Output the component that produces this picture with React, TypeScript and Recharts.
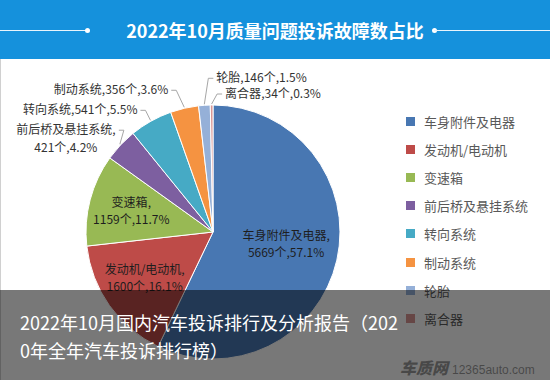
import React from 'react';
import { PieChart, Pie, Cell } from 'recharts';

const categories = ['车身附件及电器', '发动机/电动机', '变速箱', '前后桥及悬挂系统', '转向系统', '制动系统', '轮胎', '离合器'];
const counts = [5669, 1600, 1159, 421, 541, 356, 146, 34];
const percents = ['57.1%', '16.1%', '11.7%', '4.2%', '5.5%', '3.6%', '1.5%', '0.3%'];
const COLORS = ['#4877b2', '#be4b48', '#98b954', '#7d5fa0', '#46aac5', '#f59341', '#95b0d8', '#d99694'];

const TITLE = '2022年10月质量问题投诉故障数占比';
const BANNER = ['2022年10月国内汽车投诉排行及分析报告（202', '0年全年汽车投诉排行榜）'];

const data = categories.map((name, i) => ({ name, value: counts[i], pct: percents[i] }));

const FONT = '"Noto Sans CJK SC", "Noto Sans", sans-serif';
const RAD = Math.PI / 180;

// label placement: inside labels sit at a fraction of the radius,
// outside labels are offset from the slice edge and get a leader line
type LabelCfg =
  | { inside: number; dy: number }
  | { dx: number; dy: number; side: 'left' | 'right'; split?: boolean };

const LABEL_CFG: LabelCfg[] = [
  { inside: 0.59, dy: -5 },
  { inside: 0.66, dy: -3 },
  { inside: 0.665, dy: 0 },
  { dx: -4, dy: -14, side: 'left', split: true },
  { dx: -13, dy: -10, side: 'left' },
  { dx: -16, dy: -17, side: 'left' },
  { dx: 12, dy: -26, side: 'right' },
  { dx: 13.5, dy: -10, side: 'right' },
];

const renderLabel = (props: any) => {
  const { cx, cy, midAngle, outerRadius, index } = props;
  const d = data[index];
  const cfg = LABEL_CFG[index];
  const cos = Math.cos(-midAngle * RAD);
  const sin = Math.sin(-midAngle * RAD);

  if ('inside' in cfg) {
    const r = outerRadius * cfg.inside;
    const x = cx + r * cos;
    const y = cy + r * sin + cfg.dy;
    return (
      <text x={x} y={y} textAnchor="middle" fill="#1e1e1e" fontSize={12} fontFamily={FONT}>
        <tspan x={x} dy={-4}>{d.name},</tspan>
        <tspan x={x} dy={17}>{d.value}个,{d.pct}</tspan>
      </text>
    );
  }

  const ex = cx + (outerRadius + 1) * cos;
  const ey = cy + (outerRadius + 1) * sin;
  const tx = ex + cfg.dx;
  const ty = ey + cfg.dy;
  const dir = cfg.side === 'left' ? 1 : -1;
  const path = `M${ex},${ey} L${tx + dir * 8},${ty} L${tx + dir * 3},${ty}`;

  if (cfg.split) {
    const mx = tx - 50;
    return (
      <g>
        <path d={path} stroke="#a6a6a6" fill="none" strokeWidth={1} />
        <text x={mx} y={ty + 4} textAnchor="middle" fill="#333" fontSize={12} fontFamily={FONT}>
          <tspan x={mx}>{d.name},</tspan>
          <tspan x={mx} dy={18}>{d.value}个,{d.pct}</tspan>
        </text>
      </g>
    );
  }

  return (
    <g>
      <path d={path} stroke="#a6a6a6" fill="none" strokeWidth={1} />
      <text x={tx} y={ty + 4} textAnchor={cfg.side === 'left' ? 'end' : 'start'} fill="#333" fontSize={12} fontFamily={FONT}>
        {d.name},{d.value}个,{d.pct}
      </text>
    </g>
  );
};

const LegendList = () => (
  <div style={{ position: 'absolute', left: 406, top: 107, fontFamily: FONT }}>
    {categories.map((c, i) => (
      <div key={c} style={{ display: 'flex', alignItems: 'center', height: 28.2 }}>
        <div style={{ width: 9, height: 9, background: COLORS[i], marginRight: 9 }} />
        <span style={{ fontSize: 13, color: '#595959', whiteSpace: 'nowrap' }}>{c}</span>
      </div>
    ))}
  </div>
);

const TitleBar = () => (
  <div style={{ position: 'absolute', left: 0, top: 0, width: 550, height: 59, background: '#1591dc' }}>
    <div style={{ position: 'absolute', left: 0, top: 30, width: 87, height: 1, background: '#e8f4fc' }} />
    <div style={{ position: 'absolute', left: 85, top: 28, width: 5, height: 5, borderRadius: 3, background: '#fff' }} />
    <div style={{ position: 'absolute', left: 432, top: 28, width: 5, height: 5, borderRadius: 3, background: '#fff' }} />
    <div style={{ position: 'absolute', left: 434, top: 30, width: 116, height: 1, background: '#e8f4fc' }} />
    <div style={{
      position: 'absolute', left: 0, width: 550, top: 17, textAlign: 'center',
      color: '#fff', fontSize: 18, fontWeight: 700, fontFamily: FONT, lineHeight: '26px',
    }}>
      {TITLE}
    </div>
  </div>
);

const Banner = () => (
  <div style={{
    position: 'absolute', left: 0, top: 290, width: 550, height: 90,
    background: 'rgba(0,0,0,0.53)', fontFamily: FONT,
  }}>
    <div style={{ position: 'absolute', left: 20, top: 18, color: '#fff', fontSize: 18, lineHeight: '28px', whiteSpace: 'nowrap' }}>
      {BANNER.map((line) => <div key={line}>{line}</div>)}
    </div>
    <div style={{
      position: 'absolute', left: 400, top: 68, height: 18, lineHeight: '18px',
      color: 'rgba(30,30,30,0.55)', whiteSpace: 'nowrap', display: 'flex', alignItems: 'baseline',
    }}>
      <span style={{ fontSize: 16, fontWeight: 900, fontStyle: 'italic' }}>车质网</span>
      <span style={{ fontSize: 12, marginLeft: 4, fontFamily: 'Arial, "Liberation Sans", sans-serif' }}>12365auto.com</span>
    </div>
  </div>
);

export default function App() {
  return (
    <div style={{ position: 'fixed', left: 0, top: 0, width: 550, height: 380, background: '#fff', overflow: 'hidden' }}>
      <div style={{ position: 'absolute', left: 0, top: 59, width: 1, height: 321, background: '#d0d0d0' }} />
      <TitleBar />
      <div style={{ position: 'absolute', left: 0, top: 0 }}>
        <PieChart width={550} height={380} margin={{ top: 0, right: 0, bottom: 0, left: 0 }}>
          <Pie
            data={data}
            dataKey="value"
            nameKey="name"
            cx={213}
            cy={232}
            outerRadius={127}
            startAngle={90}
            endAngle={-270}
            stroke="#fff"
            strokeWidth={1}
            label={renderLabel}
            labelLine={false}
            isAnimationActive={false}
          >
            {data.map((d, i) => (
              <Cell key={d.name} fill={COLORS[i]} />
            ))}
          </Pie>
        </PieChart>
      </div>
      <LegendList />
      <Banner />
    </div>
  );
}
